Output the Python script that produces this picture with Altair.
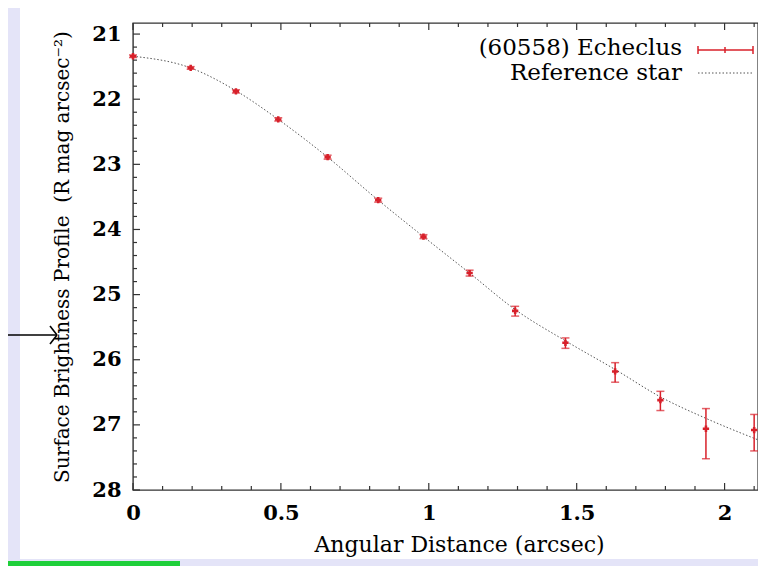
import altair as alt
import pandas as pd

# ---- data ----
x_pts = [0.0, 0.195, 0.348, 0.491, 0.658, 0.829, 0.982, 1.138, 1.292, 1.462, 1.630, 1.783, 1.937, 2.100]
y_pts = [21.34, 21.52, 21.88, 22.31, 22.89, 23.55, 24.11, 24.67, 25.25, 25.74, 26.18, 26.62, 27.06, 27.08]
err_up = [0.02, 0.02, 0.025, 0.025, 0.03, 0.03, 0.03, 0.045, 0.07, 0.075, 0.135, 0.135, 0.31, 0.24]
err_down = [0.02, 0.02, 0.025, 0.025, 0.03, 0.03, 0.03, 0.045, 0.08, 0.085, 0.165, 0.16, 0.46, 0.32]

x_ref = [0.0, 0.195, 0.348, 0.491, 0.658, 0.829, 0.982, 1.138, 1.292, 1.462, 1.630, 1.783, 1.937, 2.113]
y_ref = [21.34, 21.52, 21.87, 22.31, 22.89, 23.55, 24.11, 24.67, 25.23, 25.71, 26.15, 26.57, 26.90, 27.23]

x_major = [0, 0.5, 1, 1.5, 2]
x_minor = [0.1, 0.2, 0.3, 0.4, 0.6, 0.7, 0.8, 0.9, 1.1, 1.2, 1.3, 1.4,
           1.6, 1.7, 1.8, 1.9, 2.1]
y_major = [21, 22, 23, 24, 25, 26, 27, 28]
y_minor = [21.2, 21.4, 21.6, 21.8, 22.2, 22.4, 22.6, 22.8, 23.2, 23.4, 23.6, 23.8,
           24.2, 24.4, 24.6, 24.8, 25.2, 25.4, 25.6, 25.8, 26.2, 26.4, 26.6, 26.8,
           27.2, 27.4, 27.6, 27.8]

legend_labels = ["(60558) Echeclus", "Reference star"]

W, H = 625, 467
RED = "#d8202a"
LAV = "#e4e4f8"
FONT = "DejaVu Serif"

pts = pd.DataFrame({"x": x_pts, "y": y_pts, "eu": err_up, "ed": err_down})
pts["lo"] = pts["y"] - pts["eu"]
pts["hi"] = pts["y"] + pts["ed"]
ref = pd.DataFrame({"x": x_ref, "y": y_ref})
one = pd.DataFrame({"a": [0]})

xs = alt.Scale(domain=[0, 2.113], nice=False, zero=False)
ys = alt.Scale(domain=[20.83, 28], reverse=True, nice=False, zero=False)

AX = alt.Axis(
    values=x_major, format="~g", title="Angular Distance (arcsec)",
    ticks=False, domain=False, grid=False, labelFlush=False, labelOverlap=False,
    labelFont=FONT, labelFontSize=21, labelFontWeight="bold", labelColor="black",
    labelPadding=12, titleFont=FONT, titleFontSize=22, titleFontWeight="normal",
    titleColor="black", titlePadding=11, titleX=326, titleAlign="center")
AY = alt.Axis(
    values=y_major, format="d",
    title="Surface Brightness Profile\u00a0 (R mag arcsec\u207b\u00b2)",
    ticks=False, domain=False, grid=False, labelFlush=False, labelOverlap=False,
    labelFont=FONT, labelFontSize=21, labelFontWeight="bold", labelColor="black",
    labelPadding=12, titleFont=FONT, titleFontSize=20, titleFontWeight="normal",
    titleColor="black", titlePadding=19)


def X(f):
    return alt.X(f, type="quantitative", scale=xs, axis=AX)


def Y(f):
    return alt.Y(f, type="quantitative", scale=ys, axis=AY)


base1 = alt.Chart(one)


def box(x1, x2, y1, y2, color):
    return base1.mark_rect(color=color).encode(
        x=alt.value(x1), x2=alt.value(x2), y=alt.value(y1), y2=alt.value(y2))


def seg(x1, x2, y1, y2, color="black", w=1.5, dash=None):
    kw = dict(color=color, strokeWidth=w)
    if dash:
        kw["strokeDash"] = dash
    return base1.mark_rule(**kw).encode(
        x=alt.value(x1), x2=alt.value(x2), y=alt.value(y1), y2=alt.value(y2))


# slide decorations
deco = [
    box(-125, -113, -15, 543, LAV),
    box(-125, W, 536, 543, LAV),
    box(-125, 47, 538, 543, "#1fcf3a"),
    seg(-125, -76, 312, 312, "black", 1.6),
    seg(-83, -76, 303, 312, "black", 1.6),
    seg(-83, -76, 321, 312, "black", 1.6),
]

TICK_C = "#333333"


def xticks(vals, ln):
    d = pd.DataFrame({"t": vals})
    b = alt.Chart(d).mark_rule(color=TICK_C, strokeWidth=1.2).encode(
        x=X("t"), y=alt.value(H), y2=alt.value(H - ln))
    t = alt.Chart(d).mark_rule(color=TICK_C, strokeWidth=1.2).encode(
        x=X("t"), y=alt.value(0), y2=alt.value(ln))
    return [b, t]


def yticks(vals, ln):
    d = pd.DataFrame({"t": vals})
    return [alt.Chart(d).mark_rule(color=TICK_C, strokeWidth=1.2).encode(
        y=Y("t"), x=alt.value(0), x2=alt.value(ln))]


ticks = xticks(x_major, 7) + xticks(x_minor, 4) + yticks(y_major, 7) + yticks(y_minor, 4)

line = alt.Chart(ref).mark_line(
    interpolate="monotone", color="#555555", strokeWidth=1, strokeDash=[1.5, 2]
).encode(x=X("x"), y=Y("y"))

pbase = alt.Chart(pts)
bars = pbase.mark_rule(color=RED, strokeWidth=1.5).encode(x=X("x"), y=Y("lo"), y2="hi:Q")
cap_lo = pbase.mark_tick(color=RED, orient="horizontal", size=8, thickness=1.5).encode(
    x=X("x"), y=Y("lo"))
cap_hi = pbase.mark_tick(color=RED, orient="horizontal", size=8, thickness=1.5).encode(
    x=X("x"), y=Y("hi"))
marks = pbase.mark_point(shape="cross", filled=True, size=40, color=RED, opacity=1).encode(
    x=X("x"), y=Y("y"))

# legend
leg = [
    base1.mark_text(font=FONT, fontSize=23, align="right", baseline="middle", color="black",
                    text=legend_labels[0]).encode(x=alt.value(549), y=alt.value(25)),
    base1.mark_text(font=FONT, fontSize=23, align="right", baseline="middle", color="black",
                    text=legend_labels[1]).encode(x=alt.value(549), y=alt.value(50)),
    seg(565, 620, 27, 27, RED, 1.5),
    seg(565, 565, 23, 31, RED, 1.5),
    seg(620, 620, 23, 31, RED, 1.5),
    seg(592, 592, 24, 30, RED, 1.5),
    seg(565, 620, 50, 50, "#555555", 1, [1.5, 2]),
]

chart = alt.layer(*deco, *ticks, line, bars, cap_lo, cap_hi, marks, *leg).properties(
    width=W, height=H, background="white",
    padding={"left": 125, "top": 15, "right": 0, "bottom": 76},
    autosize=alt.AutoSizeParams(type="none"),
).configure_view(stroke="#333333", strokeWidth=1.4)

chart.save("out.html", embed_options={"renderer": "svg", "actions": False})
